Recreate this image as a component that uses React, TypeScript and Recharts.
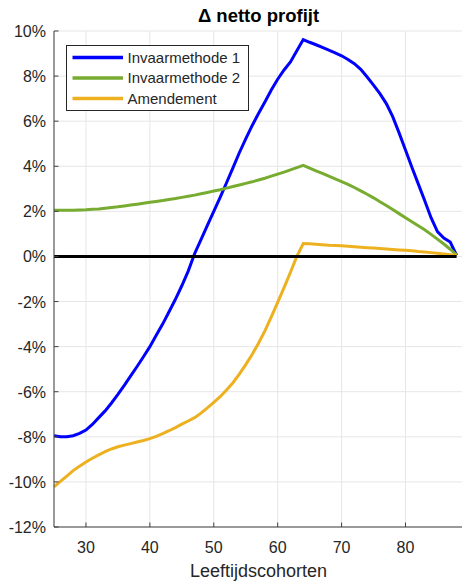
import { LineChart, Line, XAxis, YAxis, CartesianGrid, ReferenceLine, Legend } from "recharts";

const ages = [
  25, 26, 27, 28, 29, 30, 31, 32, 33, 34, 35, 36, 37, 38, 39, 40, 41, 42, 43, 44, 45, 46,
  47, 48, 49, 50, 51, 52, 53, 54, 55, 56, 57, 58, 59, 60, 61, 62, 63, 64, 65, 66, 67, 68,
  69, 70, 71, 72, 73, 74, 75, 76, 77, 78, 79, 80, 81, 82, 83, 84, 85, 86, 87, 88,
];

const invaarmethode1 = [
  -7.95, -8.0, -8.0, -7.95, -7.85, -7.7, -7.45, -7.15, -6.85, -6.5, -6.12, -5.72, -5.3,
  -4.88, -4.45, -4.0, -3.5, -3.0, -2.45, -1.9, -1.3, -0.65, 0.12, 0.75, 1.38, 2.0, 2.62,
  3.27, 3.93, 4.6, 5.22, 5.8, 6.34, 6.85, 7.38, 7.86, 8.27, 8.63, 9.12, 9.62, 9.5, 9.39,
  9.27, 9.15, 9.03, 8.9, 8.74, 8.55, 8.3, 7.96, 7.6, 7.22, 6.78, 6.2, 5.48, 4.72, 3.96,
  3.22, 2.48, 1.72, 1.1, 0.82, 0.64, 0.05,
];

const invaarmethode2 = [
  2.05, 2.05, 2.05, 2.05, 2.06, 2.07, 2.09, 2.11, 2.14, 2.17, 2.2, 2.24, 2.28, 2.32, 2.36,
  2.4, 2.44, 2.48, 2.53, 2.57, 2.62, 2.67, 2.72, 2.78, 2.84, 2.9, 2.96, 3.03, 3.1, 3.17,
  3.24, 3.31, 3.39, 3.47, 3.56, 3.65, 3.74, 3.84, 3.94, 4.04, 3.92, 3.8, 3.68, 3.56, 3.44,
  3.32, 3.2, 3.06, 2.91, 2.76, 2.6, 2.43, 2.26, 2.08, 1.9, 1.72, 1.54, 1.36, 1.18, 0.98,
  0.77, 0.55, 0.32, 0.06,
];

const amendement = [
  -10.22, -9.98, -9.74, -9.5, -9.3, -9.12, -8.95, -8.8, -8.66, -8.54, -8.44, -8.37, -8.3,
  -8.23, -8.16, -8.08, -7.98, -7.86, -7.73, -7.59, -7.44, -7.3, -7.15, -6.95, -6.72, -6.47,
  -6.22, -5.92, -5.6, -5.22, -4.8, -4.35, -3.85, -3.3, -2.68, -2.04, -1.38, -0.7, 0.0,
  0.57, 0.56, 0.54, 0.52, 0.5, 0.49, 0.47, 0.45, 0.43, 0.41, 0.39, 0.37, 0.35, 0.33, 0.31,
  0.29, 0.27, 0.25, 0.22, 0.2, 0.17, 0.14, 0.11, 0.08, 0.05,
];

const seriesNames = ["Invaarmethode 1", "Invaarmethode 2", "Amendement"];
const xTicks = [30, 40, 50, 60, 70, 80];
const yTicks = [-12, -10, -8, -6, -4, -2, 0, 2, 4, 6, 8, 10];

const FONT = "'Liberation Sans', Arial, Helvetica, sans-serif";
const AXIS = "#404040";
const TEXT = "#262626";
const PLOT_LEFT = 54;
const PLOT_BOTTOM = 527;

const data = ages.map((age, i) => ({
  age,
  m1: invaarmethode1[i],
  m2: invaarmethode2[i],
  am: amendement[i],
}));

function YTick(props: any) {
  const { y, payload } = props;
  return (
    <g>
      <line x1={PLOT_LEFT} x2={PLOT_LEFT + 4.5} y1={y} y2={y} stroke={AXIS} strokeWidth={1} />
      <text x={46} y={y + 6} textAnchor="end" fontSize={16} fill={TEXT} fontFamily={FONT}>
        {`${payload.value}%`}
      </text>
    </g>
  );
}

function XTick(props: any) {
  const { x, payload } = props;
  return (
    <g>
      <line x1={x} x2={x} y1={PLOT_BOTTOM} y2={PLOT_BOTTOM - 4.5} stroke={AXIS} strokeWidth={1} />
      <text x={x} y={552.5} textAnchor="middle" fontSize={16} fill={TEXT} fontFamily={FONT}>
        {payload.value}
      </text>
    </g>
  );
}

function LegendBox(props: any) {
  const payload = props.payload ?? [];
  // keep the plotting order, not the alphabetical one
  const items = seriesNames
    .map((n) => payload.find((p: any) => p.value === n))
    .filter(Boolean);
  return (
    <svg width={184} height={67} style={{ display: "block" }}>
      <rect x={0.5} y={0.5} width={182} height={65} fill="#fff" stroke={TEXT} strokeWidth={1} />
      {items.map((item: any, i: number) => {
        const cy = 12.5 + i * 20.5;
        return (
          <g key={item.value}>
            <line x1={6.5} x2={57} y1={cy} y2={cy} stroke={item.color} strokeWidth={3.5} />
            <text x={61.5} y={cy + 5.3} fontSize={15} fill={TEXT} fontFamily={FONT}>
              {item.value}
            </text>
          </g>
        );
      })}
    </svg>
  );
}

export default function App() {
  return (
    <div
      style={{
        position: "absolute",
        left: 0,
        top: 0,
        width: 462,
        height: 581,
        overflow: "hidden",
        background: "#fff",
      }}
    >
      <LineChart
        width={470}
        height={581}
        data={data}
        margin={{ top: 31, right: 7, left: 0, bottom: 0 }}
      >
        <CartesianGrid stroke="#e6e6e6" strokeWidth={1} />
        <XAxis
          dataKey="age"
          type="number"
          domain={[25, 89]}
          ticks={xTicks}
          height={54}
          axisLine={{ stroke: AXIS, strokeWidth: 1 }}
          tickLine={false}
          tick={<XTick />}
          interval={0}
        />
        <YAxis
          type="number"
          domain={[-12, 10]}
          ticks={yTicks}
          width={54}
          axisLine={{ stroke: AXIS, strokeWidth: 1 }}
          tickLine={false}
          tick={<YTick />}
          interval={0}
        />
        <Legend
          layout="vertical"
          align="center"
          verticalAlign="middle"
          content={<LegendBox />}
          wrapperStyle={{ position: "absolute", left: 66, top: 45, width: 184, height: 67 }}
        />
        <Line
          dataKey="m1"
          name={seriesNames[0]}
          stroke="#0000ff"
          strokeWidth={3}
          dot={false}
          type="linear"
          isAnimationActive={false}
        />
        <Line
          dataKey="m2"
          name={seriesNames[1]}
          stroke="#77ac30"
          strokeWidth={3}
          dot={false}
          type="linear"
          isAnimationActive={false}
        />
        <Line
          dataKey="am"
          name={seriesNames[2]}
          stroke="#edb120"
          strokeWidth={3}
          dot={false}
          type="linear"
          isAnimationActive={false}
        />
        <ReferenceLine
          segment={[
            { x: 25, y: 0 },
            { x: 88, y: 0 },
          ]}
          stroke="#000"
          strokeWidth={3}
        />
      </LineChart>
      <svg
        width={462}
        height={581}
        style={{ position: "absolute", left: 0, top: 0, pointerEvents: "none" }}
      >
        <text x={258.5} y={22} textAnchor="middle" fontSize={18.5} fontWeight="bold" fill="#000" fontFamily={FONT}>
          Δ netto profijt
        </text>
        <text x={258.5} y={577} textAnchor="middle" fontSize={18} fill={TEXT} fontFamily={FONT}>
          Leeftijdscohorten
        </text>
      </svg>
    </div>
  );
}
